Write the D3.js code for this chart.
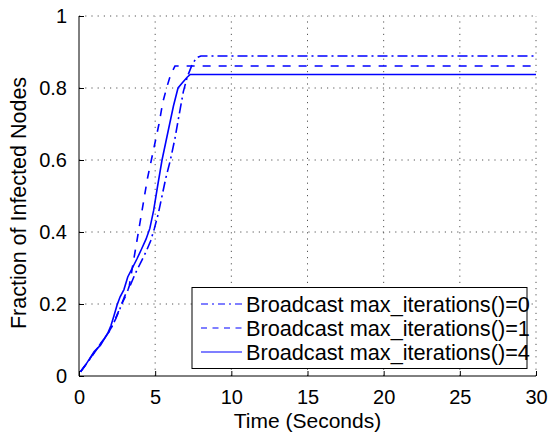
<!DOCTYPE html>
<html>
<head>
<meta charset="utf-8">
<script src="https://cdn.jsdelivr.net/npm/d3@7/dist/d3.min.js"></script>
<style>
  html, body { margin: 0; padding: 0; background: #fff; }
  svg { display: block; font-family: "Liberation Sans", Arial, Helvetica, sans-serif; }
</style>
</head>
<body>
<svg id="chart" width="548" height="434"></svg>
<script>
// Infection spread over time for three broadcast settings
const seriesNames = [
  "Broadcast max_iterations()=0",
  "Broadcast max_iterations()=1",
  "Broadcast max_iterations()=4"
];

const timeIter0 = [0.1, 0.6, 1.1, 1.6, 2.0, 2.4, 2.7, 3.0, 3.35, 3.7, 4.05, 4.4, 4.7, 4.95, 5.2, 5.45, 5.7, 6.0, 6.3, 6.55, 6.85, 7.1, 7.4, 7.7, 8.0, 30];
const fracIter0 = [0.012, 0.04, 0.07, 0.1, 0.125, 0.158, 0.188, 0.222, 0.25, 0.285, 0.315, 0.345, 0.375, 0.41, 0.45, 0.5, 0.55, 0.6, 0.66, 0.72, 0.79, 0.83, 0.862, 0.884, 0.889, 0.889];

const timeIter1 = [0.1, 0.5, 1.0, 1.5, 1.9, 2.2, 2.5, 2.8, 3.1, 3.3, 3.5, 3.7, 3.9, 4.1, 4.3, 4.5, 4.75, 5.0, 5.25, 5.5, 5.75, 6.0, 6.3, 30];
const fracIter1 = [0.012, 0.035, 0.066, 0.095, 0.118, 0.14, 0.17, 0.2, 0.225, 0.25, 0.3, 0.35, 0.4, 0.45, 0.5, 0.55, 0.6, 0.65, 0.7, 0.76, 0.8, 0.835, 0.861, 0.861];

const timeIter4 = [0.1, 0.5, 1.0, 1.4, 1.9, 2.1, 2.3, 2.5, 2.7, 2.95, 3.2, 3.5, 3.8, 4.1, 4.4, 4.65, 4.9, 5.15, 5.45, 5.7, 5.95, 6.2, 6.5, 6.8, 7.1, 7.3, 30];
const fracIter4 = [0.012, 0.035, 0.068, 0.085, 0.12, 0.14, 0.168, 0.197, 0.22, 0.24, 0.275, 0.3, 0.325, 0.352, 0.38, 0.41, 0.46, 0.525, 0.6, 0.65, 0.7, 0.75, 0.8, 0.815, 0.83, 0.8375, 0.8375];

const xTicks = [0, 5, 10, 15, 20, 25, 30];
const yTicks = [0, 0.2, 0.4, 0.6, 0.8, 1];
const xTickLabels = ["0", "5", "10", "15", "20", "25", "30"];
const yTickLabels = ["0", "0.2", "0.4", "0.6", "0.8", "1"];

const svg = d3.select("#chart");
const plotLeft = 79, plotRight = 536, plotTop = 16, plotBottom = 376;

const x = d3.scaleLinear().domain([0, 30]).range([plotLeft, plotRight]);
const y = d3.scaleLinear().domain([0, 1]).range([plotBottom, plotTop]);

// dotted grid
const grid = svg.append("g").attr("stroke", "#555").attr("stroke-width", 1)
  .attr("stroke-dasharray", "1.2,5").attr("fill", "none");
xTicks.filter(d => d > 0).forEach(d => {
  grid.append("line").attr("x1", x(d)).attr("x2", x(d)).attr("y1", plotBottom).attr("y2", plotTop);
});
yTicks.filter(d => d > 0).forEach(d => {
  grid.append("line").attr("x1", plotLeft).attr("x2", plotRight).attr("y1", y(d)).attr("y2", y(d));
});

// axes with inward ticks
const xAxis = d3.axisBottom(x).tickValues(xTicks).tickSize(-5).tickPadding(14)
  .tickFormat((d, i) => xTickLabels[i]);
const yAxis = d3.axisLeft(y).tickValues(yTicks).tickSize(-5).tickPadding(12)
  .tickFormat((d, i) => yTickLabels[i]);

const gx = svg.append("g").attr("transform", `translate(0,${plotBottom})`).call(xAxis);
const gy = svg.append("g").attr("transform", `translate(${plotLeft},0)`).call(yAxis);
[gx, gy].forEach(g => {
  g.select(".domain").attr("stroke", "#000").attr("stroke-width", 1);
  g.selectAll(".tick line").attr("stroke", "#000");
  g.selectAll(".tick text").attr("fill", "#000").style("font-size", "20px")
    .style("font-family", "'Liberation Sans', Arial, sans-serif");
});
gy.select(".domain").attr("d", `M0,${plotBottom}V${plotTop}`);
gx.select(".domain").attr("d", `M${plotLeft},0H${plotRight}`);

// series lines
const seriesData = [
  { t: timeIter0, f: fracIter0, dash: "10,4,2,4" },
  { t: timeIter1, f: fracIter1, dash: "8,8" },
  { t: timeIter4, f: fracIter4, dash: null }
];
const line = d3.line().x(d => x(d[0])).y(d => y(d[1]));
seriesData.forEach(s => {
  const pts = s.t.map((t, i) => [t, s.f[i]]);
  svg.append("path").datum(pts)
    .attr("d", line)
    .attr("fill", "none")
    .attr("stroke", "#0000ff")
    .attr("stroke-width", 1.6)
    .attr("stroke-dasharray", s.dash);
});

// axis titles
svg.append("text").attr("x", (plotLeft + plotRight) / 2).attr("y", 428)
  .attr("text-anchor", "middle").style("font-size", "21px").text("Time (Seconds)");
svg.append("text").attr("transform", `translate(26,${(plotTop + plotBottom) / 2 + 7}) rotate(-90)`)
  .attr("text-anchor", "middle").style("font-size", "21.5px").text("Fraction of Infected Nodes");

// legend
const lg = svg.append("g");
lg.append("rect").attr("x", 192).attr("y", 287.5).attr("width", 335).attr("height", 81)
  .attr("fill", "#fff").attr("stroke", "#000").attr("stroke-width", 1);
const legendDash = ["7,4,2,4", "6,5.5", null];
[304, 328, 352].forEach((ry, i) => {
  lg.append("line").attr("x1", 201).attr("x2", 242).attr("y1", ry).attr("y2", ry)
    .attr("stroke", "#0000ff").attr("stroke-width", 1.2).attr("stroke-dasharray", legendDash[i]);
  lg.append("text").attr("x", 246).attr("y", ry + 7.5).style("font-size", "21.7px")
    .attr("fill", "#000").text(seriesNames[i]);
});
</script>
</body>
</html>
